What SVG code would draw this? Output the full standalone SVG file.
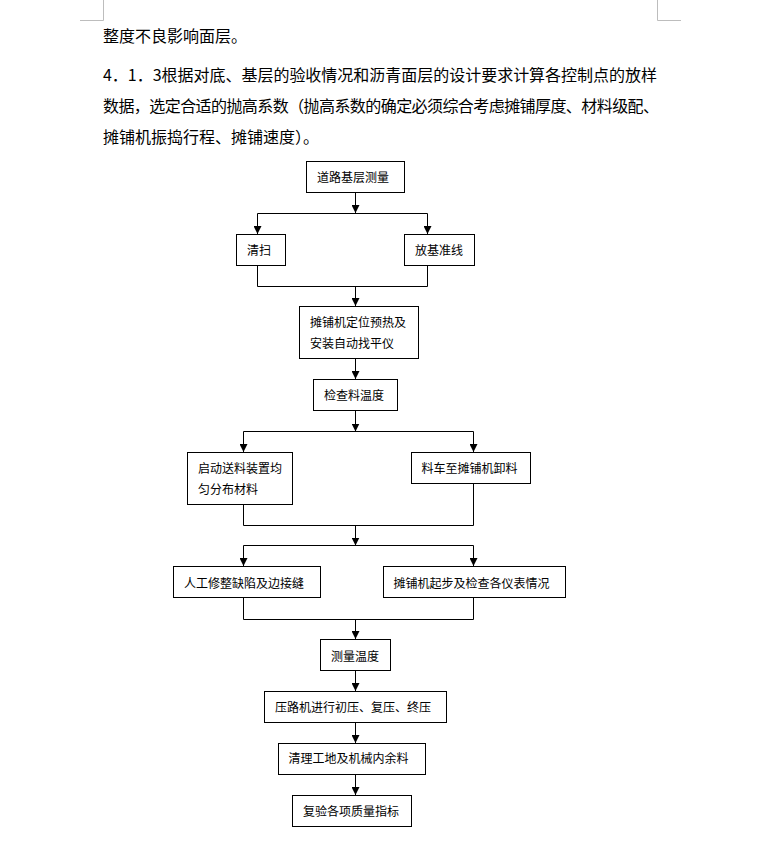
<svg xmlns="http://www.w3.org/2000/svg" width="779" height="849" viewBox="0 0 779 849">
<style>
.para{font-family:"Noto Sans CJK SC","Liberation Sans",sans-serif;font-size:16px;fill:#000}
.lbl{font-family:"Noto Sans CJK SC","Liberation Sans",sans-serif;font-size:12px;fill:#000}
.box{fill:#fff;stroke:#000;stroke-width:1}
.ln{fill:none;stroke:#000;stroke-width:1}
.mark{fill:none;stroke:#bdbdbd;stroke-width:1}
</style>
<defs>
<marker id="ah" markerUnits="userSpaceOnUse" markerWidth="8" markerHeight="8" refX="8" refY="4" orient="auto">
<path d="M0,0 L8,4 L0,8 z" fill="#000"/>
</marker>
</defs>
<rect x="0" y="0" width="779" height="849" fill="#fff"/>
<g id="page-marks">
<path class="mark" d="M103.5,0 V20.5 H80"/>
<path class="mark" d="M657.5,0 V20.5 H681"/>
</g>
<g id="paragraph">
<text class="para" x="103" y="42">整度不良影响面层。</text>
<text class="para" x="103" y="81" textLength="554" lengthAdjust="spacing">4．1．3根据对底、基层的验收情况和沥青面层的设计要求计算各控制点的放样</text>
<text class="para" x="103" y="112" textLength="556" lengthAdjust="spacing">数据，选定合适的抛高系数（抛高系数的确定必须综合考虑摊铺厚度、材料级配、</text>
<text class="para" x="103" y="143">摊铺机振捣行程、摊铺速度）。</text>
</g>
<g id="connectors">
<path class="ln" d="M355.5,192.5 V213" marker-end="url(#ah)"/>
<path class="ln" d="M257.5,213.5 H427.5"/>
<path class="ln" d="M257.5,213.5 V234" marker-end="url(#ah)"/>
<path class="ln" d="M427.5,213.5 V234" marker-end="url(#ah)"/>
<path class="ln" d="M257.5,265.5 V286.5 H427.5 V265.5"/>
<path class="ln" d="M355.5,286.5 V306" marker-end="url(#ah)"/>
<path class="ln" d="M355.5,358.5 V379" marker-end="url(#ah)"/>
<path class="ln" d="M355.5,410.5 V431.5" marker-end="url(#ah)"/>
<path class="ln" d="M243.5,431.5 H473.5"/>
<path class="ln" d="M243.5,431.5 V452" marker-end="url(#ah)"/>
<path class="ln" d="M473.5,431.5 V452" marker-end="url(#ah)"/>
<path class="ln" d="M243.5,504.5 V525.5 H473.5 V483.5"/>
<path class="ln" d="M355.5,525.5 V545.5" marker-end="url(#ah)"/>
<path class="ln" d="M243.5,545.5 H473.5"/>
<path class="ln" d="M243.5,545.5 V566" marker-end="url(#ah)"/>
<path class="ln" d="M473.5,545.5 V566" marker-end="url(#ah)"/>
<path class="ln" d="M243.5,597.5 V619.5 H473.5 V597.5"/>
<path class="ln" d="M355.5,619.5 V639" marker-end="url(#ah)"/>
<path class="ln" d="M355.5,670.5 V691" marker-end="url(#ah)"/>
<path class="ln" d="M355.5,722.5 V743" marker-end="url(#ah)"/>
<path class="ln" d="M355.5,774.5 V795" marker-end="url(#ah)"/>
</g>
<g id="n1"><rect class="box" x="306.5" y="161.5" width="98" height="31"/><text class="lbl" x="317" y="181.5">道路基层测量</text></g>
<g id="n2"><rect class="box" x="236.5" y="234.5" width="49" height="31"/><text class="lbl" x="247" y="254.5">清扫</text></g>
<g id="n3"><rect class="box" x="404.5" y="234.5" width="70" height="31"/><text class="lbl" x="415" y="254.5">放基准线</text></g>
<g id="n4"><rect class="box" x="299.5" y="306.5" width="119" height="52"/><text class="lbl" x="310" y="327">摊铺机定位预热及</text><text class="lbl" x="310" y="347.5">安装自动找平仪</text></g>
<g id="n5"><rect class="box" x="313.5" y="379.5" width="84" height="31"/><text class="lbl" x="324" y="399.5">检查料温度</text></g>
<g id="n6"><rect class="box" x="187.5" y="452.5" width="105" height="52"/><text class="lbl" x="198" y="473">启动送料装置均</text><text class="lbl" x="198" y="493.5">匀分布材料</text></g>
<g id="n7"><rect class="box" x="411.5" y="452.5" width="119" height="31"/><text class="lbl" x="421.5" y="473">料车至摊铺机卸料</text></g>
<g id="n8"><rect class="box" x="173.5" y="566.5" width="147" height="31"/><text class="lbl" x="184" y="587.5">人工修整缺陷及边接缝</text></g>
<g id="n9"><rect class="box" x="383.5" y="566.5" width="182" height="31"/><text class="lbl" x="393.5" y="587.5">摊铺机起步及检查各仪表情况</text></g>
<g id="n10"><rect class="box" x="320.5" y="639.5" width="70" height="31"/><text class="lbl" x="331" y="660.5">测量温度</text></g>
<g id="n11"><rect class="box" x="264.5" y="691.5" width="182" height="31"/><text class="lbl" x="275" y="712">压路机进行初压、复压、终压</text></g>
<g id="n12"><rect class="box" x="278.5" y="743.5" width="147" height="31"/><text class="lbl" x="288.5" y="763">清理工地及机械内余料</text></g>
<g id="n13"><rect class="box" x="292.5" y="795.5" width="119" height="31"/><text class="lbl" x="303" y="815.5">复验各项质量指标</text></g>
</svg>
